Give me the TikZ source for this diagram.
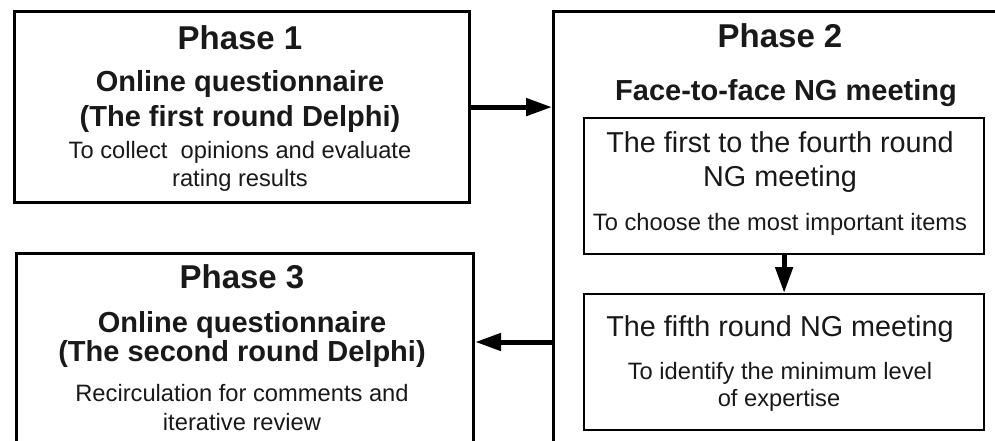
\documentclass[tikz,border=0pt]{standalone}
\usepackage{fontspec}
\setmainfont{Liberation Sans}
\usetikzlibrary{arrows.meta}
\tikzset{
  outerbox/.style={draw=black, line width=3.2pt, inner sep=0pt, anchor=north west},
  innerbox/.style={draw=black, line width=2.2pt, inner sep=0pt, anchor=north west},
  arr/.style={line width=5pt, -{Triangle[length=26pt, width=17pt]}},
  txt/.style={inner sep=0pt, anchor=base, text=black!90},
  phase/.style={txt, font=\fontsize{33}{38}\selectfont\bfseries},
  sub/.style={txt, font=\fontsize{29}{34}\selectfont\bfseries},
  ititle/.style={txt, font=\fontsize{28.8}{33}\selectfont},
  desc/.style={txt, font=\fontsize{23.7}{28}\selectfont}
}
\begin{document}
\begin{tikzpicture}[x=1pt, y=-1pt]
\useasboundingbox (0,0) rectangle (995,441);
\clip (0,0) rectangle (995,441);
% boxes
\node[outerbox, minimum width=455pt, minimum height=191pt] (p1) at (13,10) {};
\node[outerbox, minimum width=460pt, minimum height=431.5pt] (p2) at (552,10) {};
\node[outerbox, minimum width=457pt, minimum height=189.5pt] (p3) at (15,252) {};
\node[innerbox, minimum width=400pt, minimum height=136pt] (q1) at (583,117) {};
\node[innerbox, minimum width=400pt, minimum height=136pt] (q2) at (583,293) {};
% phase 1 text
\node[phase] (t1a) at (240,49.3) {Phase 1};
\node[sub] (t1b) at (240,91.7) {Online questionnaire};
\node[sub] (t1c) at (240,126.7) {(The first round Delphi)};
\node[desc] (t1d) at (240,158.3) {To collect\ \ opinions and evaluate};
\node[desc] (t1e) at (240,186.7) {rating results};
% phase 2 text
\node[phase] (t2a) at (780,47.3) {Phase 2};
\node[sub] (t2b) at (786,101) {Face-to-face NG meeting};
\node[ititle] (t2c) at (780,152.7) {The first to the fourth round};
\node[ititle] (t2d) at (780,186) {NG meeting};
\node[desc] (t2e) at (780,230) {To choose the most important items};
\node[ititle] (t2f) at (780,336) {The fifth round NG meeting};
\node[desc] (t2g) at (780,379) {To identify the minimum level};
\node[desc] (t2h) at (779,406.7) {of expertise};
% phase 3 text
\node[phase] (t3a) at (242,288.3) {Phase 3};
\node[sub] (t3b) at (242,332.3) {Online questionnaire};
\node[sub] (t3c) at (242,361) {(The second round Delphi)};
\node[desc] (t3d) at (242,401.7) {Recirculation for comments and};
\node[desc] (t3e) at (242,430) {iterative review};
% connectors
\draw[arr] (p1.east) -- (p1.east -| p2.west);
\coordinate (a2) at (552,342);
\draw[arr] (a2) -- (a2 -| p3.east);
\draw[arr] (q1.south) -- (q2.north);
\end{tikzpicture}
\end{document}
